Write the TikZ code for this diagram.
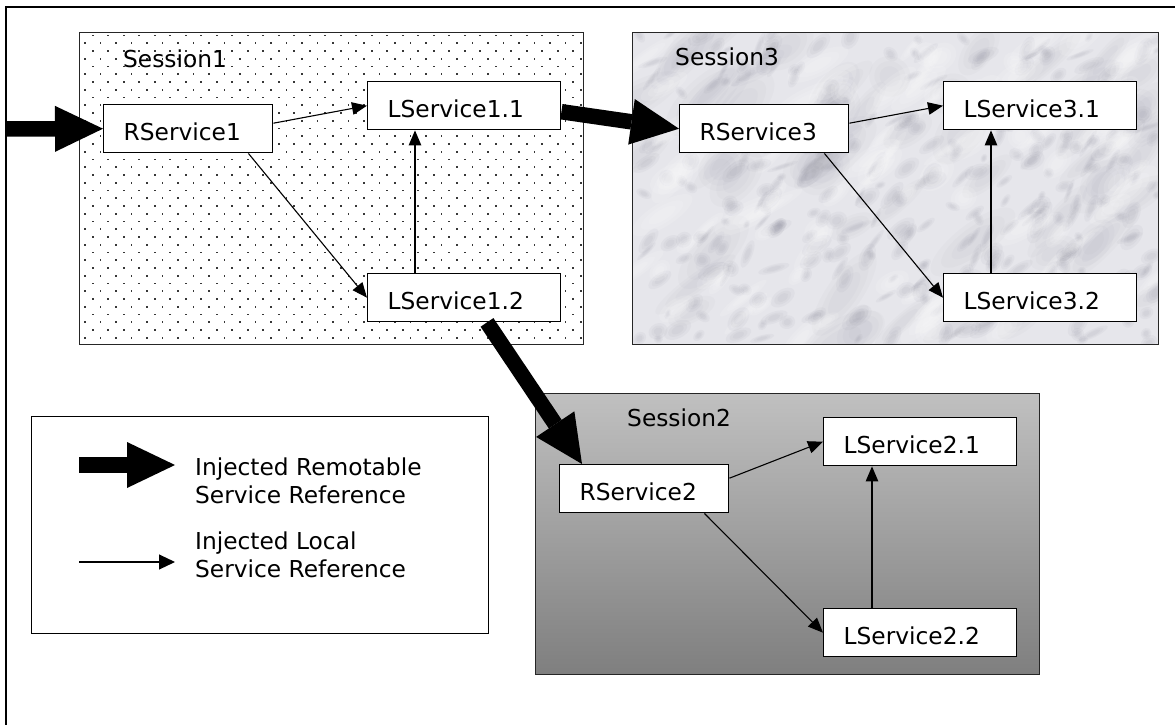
\documentclass[tikz,border=0pt]{standalone}
\usepackage{fontspec}
\setmainfont{DejaVu Sans}
\usetikzlibrary{arrows.meta,calc}

\definecolor{marblebase}{RGB}{230,230,235}
\definecolor{marblevein}{RGB}{125,125,142}
\definecolor{sessiontop}{RGB}{192,192,192}
\definecolor{sessionbottom}{RGB}{127,127,127}
\definecolor{dotcol}{RGB}{55,55,55}

\tikzset{
  svc/.style={draw, fill=white, line width=1.4pt, anchor=north west,
    minimum height=48pt, inner xsep=20pt, inner ysep=0pt, align=left,
    text height=24pt, text depth=0pt,
    font=\fontsize{23.3}{28}\selectfont},
  rsvc/.style={svc, text width=129pt},
  lsvc/.style={svc, text width=153pt},
  localref/.style={-{Triangle[length=15pt,width=12.5pt]}, line width=1.1pt},
  remoteref/.style={-{Triangle[length=48pt,width=46pt,line width=0pt]}, line width=15.5pt},
  sessionlabel/.style={anchor=base west, inner sep=0pt, font=\fontsize{23.3}{28}\selectfont},
  legendtext/.style={anchor=base west, align=left, inner sep=0pt, font=\fontsize{23.3}{28}\selectfont},
  sessionborder/.style={draw=black!85, line width=1pt}
}

\begin{document}
\begin{tikzpicture}[x=1pt,y=-1pt]
\useasboundingbox (0,0) rectangle (1175,725);

% outer frame (runs past the page on the right and bottom)
\draw[line width=1.5pt] (6,7) rectangle (1195,750);

% Session1: dotted background
\begin{scope}
  \clip (79,33) rectangle (583,344);
  \fill[white] (79,33) rectangle (583,344);
  \foreach \j in {0,...,40}{
    \foreach \i in {0,...,34}{
      \fill[dotcol] ({77.2-7.75*mod(\j,2)+15.5*\i-0.85},{35.5+7.75*\j-0.85}) rectangle ++(1.7,1.7);
    }
  }
\end{scope}
\path[sessionborder] (79,33) rectangle (583,344);

% Session3: marble background, built from soft layered blots
\begin{scope}
  \clip (632,33) rectangle (1158,344);
  \fill[marblebase] (632,33) rectangle (1158,344);
  \pgfmathsetseed{42}
  % broad light and shaded patches
  \foreach \k in {1,...,60}{
    \pgfmathsetmacro\mx{632+526*rnd}
    \pgfmathsetmacro\my{33+311*rnd}
    \pgfmathsetmacro\ma{20+35*rnd}
    \pgfmathsetmacro\mb{8+14*rnd}
    \pgfmathsetmacro\mr{25+30*rnd}
    \foreach \s in {1,0.75,0.5}{
      \fill[marblevein, opacity=0.035, rotate around={\mr:(\mx,\my)}]
        (\mx,\my) ellipse[x radius={\s*\ma pt}, y radius={\s*\mb pt}];
    }
  }
  % veins
  \foreach \k in {1,...,320}{
    \pgfmathsetmacro\mx{632+526*rnd}
    \pgfmathsetmacro\my{33+311*rnd}
    \pgfmathsetmacro\ma{4+13*rnd}
    \pgfmathsetmacro\mb{2.5+6*rnd}
    \pgfmathsetmacro\mr{15+55*rnd}
    \foreach \s in {1,0.7,0.45}{
      \fill[marblevein, opacity=0.06, rotate around={\mr:(\mx,\my)}]
        (\mx,\my) ellipse[x radius={\s*\ma pt}, y radius={\s*\mb pt}];
    }
  }
  % highlights
  \foreach \k in {1,...,90}{
    \pgfmathsetmacro\mx{632+526*rnd}
    \pgfmathsetmacro\my{33+311*rnd}
    \pgfmathsetmacro\ma{10+28*rnd}
    \pgfmathsetmacro\mb{4+10*rnd}
    \pgfmathsetmacro\mr{25+30*rnd}
    \foreach \s in {1,0.7,0.45}{
      \fill[white, opacity=0.12, rotate around={\mr:(\mx,\my)}]
        (\mx,\my) ellipse[x radius={\s*\ma pt}, y radius={\s*\mb pt}];
    }
  }
\end{scope}
\path[sessionborder] (632,33) rectangle (1158,344);

% Session2: vertical grey gradient
\shade[top color=sessiontop, bottom color=sessionbottom] (535,393) rectangle (1039,674);
\path[sessionborder] (535,393) rectangle (1039,674);

% session titles
\node[sessionlabel] (s1title) at (123,67) {Session1};
\node[sessionlabel] (s3title) at (675,66) {Session3};
\node[sessionlabel] (s2title) at (627,426) {Session2};

% services
\node[rsvc] (r1)  at (103,104) {RService1};
\node[lsvc] (l11) at (367,81)  {LService1.1};
\node[lsvc] (l12) at (367,273) {LService1.2};

\node[rsvc] (r3)  at (679,104) {RService3};
\node[lsvc] (l31) at (943,81)  {LService3.1};
\node[lsvc] (l32) at (943,273) {LService3.2};

\node[rsvc] (r2)  at (559,464) {RService2};
\node[lsvc] (l21) at (823,417) {LService2.1};
\node[lsvc] (l22) at (823,608) {LService2.2};

% local references
\draw[localref] ([yshift=5.5pt]r1.east) -- (l11.west);
\draw[localref] ([xshift=-25pt]r1.south east) -- (l12.west);
\draw[localref] ([xshift=48pt]l12.north west) -- ([xshift=48pt]l11.south west);

\draw[localref] ([yshift=5.5pt]r3.east) -- (l31.west);
\draw[localref] ([xshift=-25pt]r3.south east) -- (l32.west);
\draw[localref] ([xshift=48pt]l32.north west) -- ([xshift=48pt]l31.south west);

\draw[localref] ([yshift=10.5pt]r2.east) -- (l21.west);
\draw[localref] ([xshift=-25pt]r2.south east) -- (l22.west);
\draw[localref] ([xshift=49pt]l22.north west) -- ([xshift=49pt]l21.south west);

% remotable references
\coordinate (entry) at (6,129);
\draw[remoteref] (entry) -- (r1.west);
\draw[remoteref] ([yshift=-6pt]l11.east) -- (r3.west);
\draw[remoteref] ([xshift=120pt]l12.south west) -- ([xshift=23pt]r2.north west);

% legend
\node[draw, line width=1.3pt, anchor=north west, minimum width=457pt,
      minimum height=217pt, inner sep=0pt] (legend) at (31,416) {};
\coordinate (k1s) at (79,465);
\coordinate (k1e) at (175,465);
\draw[remoteref, line width=16pt] (k1s) -- (k1e);
\node[legendtext] (k1text) at (195,503) {Injected Remotable\\Service Reference};
\coordinate (k2s) at (79,562);
\coordinate (k2e) at (175,562);
\draw[localref, -{Triangle[length=16pt,width=15pt]}] (k2s) -- (k2e);
\node[legendtext] (k2text) at (195,577) {Injected Local\\Service Reference};
\end{tikzpicture}
\end{document}
